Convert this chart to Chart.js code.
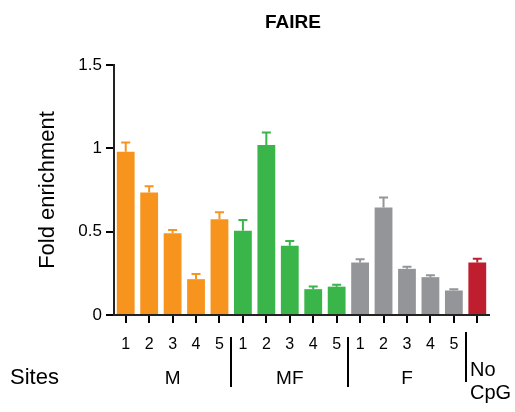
<!DOCTYPE html>
<html>
<head>
<meta charset="utf-8">
<script src="https://cdn.jsdelivr.net/npm/chart.js@4"></script>
<style>
  html, body { margin: 0; padding: 0; background: #fff; }
  #wrap { width: 515px; height: 412px; }
</style>
</head>
<body>
<div id="wrap"><canvas id="myChart" width="515" height="412"></canvas></div>
<script>
// data
const sites = ['1', '2', '3', '4', '5', '1', '2', '3', '4', '5', '1', '2', '3', '4', '5', ''];
const groups = ['M', 'MF', 'F'];
const foldEnrichment = [0.98, 0.735, 0.49, 0.215, 0.575, 0.505, 1.02, 0.415, 0.155, 0.17, 0.315, 0.645, 0.277, 0.227, 0.147, 0.315];
const errorTop = [1.035, 0.772, 0.51, 0.246, 0.617, 0.57, 1.095, 0.444, 0.171, 0.182, 0.334, 0.705, 0.289, 0.238, 0.155, 0.338];
const yTicks = [0, 0.5, 1, 1.5];

const ORANGE = '#F7941D', GREEN = '#39B54A', GREY = '#939598', RED = '#BE1E2D';
const barColors = foldEnrichment.map((v, i) => i < 5 ? ORANGE : i < 10 ? GREEN : i < 15 ? GREY : RED);
const FONT = "'Liberation Sans', Arial, sans-serif";

Chart.defaults.font.family = FONT;
Chart.defaults.color = '#000';

const extras = {
    id: 'extras',
    afterDatasetsDraw(chart) {
        const ctx = chart.ctx;
        const y = chart.scales.y;
        const meta = chart.getDatasetMeta(0);
        ctx.save();
        // error bars (upper only)
        meta.data.forEach((bar, i) => {
            const top = y.getPixelForValue(errorTop[i]);
            ctx.strokeStyle = barColors[i];
            ctx.lineWidth = 2;
            ctx.beginPath();
            ctx.moveTo(bar.x, bar.y);
            ctx.lineTo(bar.x, top);
            ctx.moveTo(bar.x - 4.5, top);
            ctx.lineTo(bar.x + 4.5, top);
            ctx.stroke();
        });
        ctx.restore();
    },
    afterDraw(chart) {
        const ctx = chart.ctx;
        const x = chart.scales.x;
        ctx.save();
        ctx.fillStyle = '#000';
        ctx.textBaseline = 'middle';
        ctx.textAlign = 'center';
        ctx.font = 'bold 19px ' + FONT;
        ctx.fillText('FAIRE', 293, 23);

        ctx.font = '19px ' + FONT;
        groups.forEach((g, k) => {
            const cx = x.getPixelForTick(k * 5 + 2);
            ctx.fillText(g, cx, 379);
        });
        ctx.textAlign = 'left';
        ctx.font = '20px ' + FONT;
        ctx.fillText('No', 470, 370);
        ctx.fillText('CpG', 470, 393);
        ctx.font = '22px ' + FONT;
        ctx.fillText('Sites', 10, 378);

        // group separators
        ctx.strokeStyle = '#000';
        ctx.lineWidth = 2;
        [[4, 337, 387], [9, 337, 387], [14, 332, 382]].forEach(([i, y0, y1]) => {
            const sx = Math.round((x.getPixelForTick(i) + x.getPixelForTick(i + 1)) / 2);
            ctx.beginPath();
            ctx.moveTo(sx, y0);
            ctx.lineTo(sx, y1);
            ctx.stroke();
        });
        ctx.restore();
    }
};

const ctx = document.getElementById('myChart');
new Chart(ctx, {
    type: 'bar',
    data: {
        labels: sites,
        datasets: [{
            data: foldEnrichment,
            backgroundColor: barColors,
            borderWidth: 0,
            categoryPercentage: 1,
            barPercentage: 0.76
        }]
    },
    options: {
        responsive: false,
        animation: false,
        events: [],
        layout: { padding: { left: 35, top: 65, right: 26, bottom: 0 } },
        plugins: {
            legend: { display: false },
            title: { display: false },
            tooltip: { enabled: false }
        },
        scales: {
            x: {
                grid: { drawOnChartArea: false, offset: false, color: '#000', lineWidth: 2, tickLength: 8 },
                border: { color: '#222', width: 2 },
                ticks: { font: { size: 16 }, padding: 12, maxRotation: 0, autoSkip: false },
                afterFit(scale) { scale.height = 97; }
            },
            y: {
                min: 0,
                max: 1.5,
                afterBuildTicks(scale) { scale.ticks = yTicks.map(v => ({ value: v })); },
                grid: { drawOnChartArea: false, color: '#000', lineWidth: 2, tickLength: 8 },
                border: { color: '#222', width: 2 },
                ticks: { font: { size: 17 }, padding: 4, callback: v => String(v) },
                title: { display: true, text: 'Fold enrichment', font: { size: 22 }, padding: 0 },
                afterFit(scale) { scale.width = 79; }
            }
        }
    },
    plugins: [extras]
});
</script>
</body>
</html>
